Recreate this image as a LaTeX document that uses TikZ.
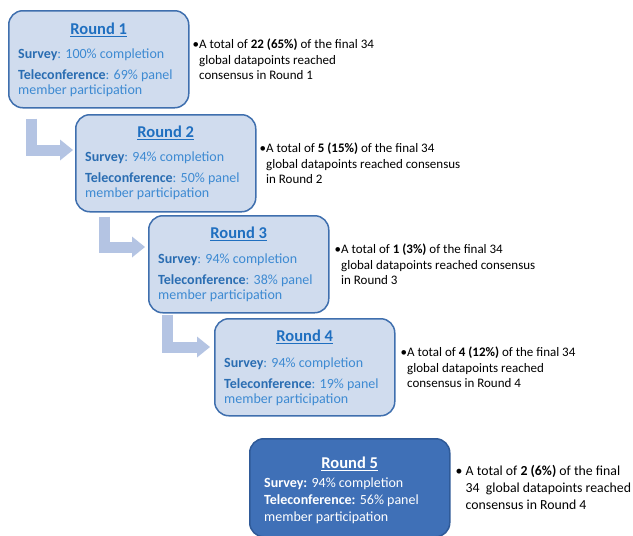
\documentclass[tikz,border=0pt]{standalone}
\usepackage{fontspec}
\setmainfont{Carlito}
\usepackage{xcolor}
\usepackage{tikz}
\usetikzlibrary{arrows.meta, positioning}

\definecolor{boxfill}{HTML}{D0DCEE}
\definecolor{boxline}{HTML}{3F6FAE}
\definecolor{darkfill}{HTML}{3F70B7}
\definecolor{darkline}{HTML}{2F5A98}
\definecolor{titleblue}{HTML}{1F6FC0}
\definecolor{labelblue}{HTML}{2A6DB2}
\definecolor{textblue}{HTML}{3D8AD2}
\definecolor{arrowblue}{HTML}{B4C4E3}

\newcommand{\lab}[1]{\textbf{#1}}

\tikzset{
    roundbox/.style={draw=boxline, fill=boxfill, line width=1.5pt, rounded corners=14pt,
        minimum width=180pt, minimum height=97pt, inner sep=0pt, anchor=north west},
    lastbox/.style={roundbox, draw=darkline, fill=darkfill, minimum width=200pt, minimum height=98pt},
    title/.style={font=\fontsize{16.5}{19}\selectfont\bfseries, text=titleblue, inner sep=0pt},
    body/.style={font=\fontsize{14}{15}\selectfont, text=textblue, align=left, inner sep=0pt, anchor=north west},
    note/.style={font=\fontsize{13}{15.5}\selectfont, align=left, inner sep=0pt, anchor=west},
    flow/.style={draw=arrowblue, line width=11pt,
        -{Triangle[width=21pt, length=13pt, line width=0pt]}}
}

\begin{document}
\begin{tikzpicture}[x=1pt, y=-1pt, node distance=3pt]
        \useasboundingbox (0,0) rectangle (633,536);

        % Add the rounds
        \node[roundbox] (r1) at (8,10)    {};
        \node[roundbox] (r2) at (75,114)  {};
        \node[roundbox] (r3) at (148,215) {};
        \node[roundbox] (r4) at (214,318) {};
        \node[lastbox]  (r5) at (249,438) {};

        % Add the text inside the rounds
        \node[title] (t1) at ([yshift=-20pt]r1.north) {\underline{Round 1}};
        \node[body] (b1) at ([xshift=10pt, yshift=-39pt]r1.north west)
            {\textcolor{labelblue}{\lab{Survey}}: 100\% completion\\[6pt]
             \textcolor{labelblue}{\lab{Teleconference}}: 69\% panel\\ member participation};
        \node[title] (t2) at ([yshift=-19pt]r2.north) {\underline{Round 2}};
        \node[body] (b2) at ([xshift=10pt, yshift=-38pt]r2.north west)
            {\textcolor{labelblue}{\lab{Survey}}: 94\% completion\\[6pt]
             \textcolor{labelblue}{\lab{Teleconference}}: 50\% panel\\ member participation};
        \node[title] (t3) at ([yshift=-19pt]r3.north) {\underline{Round 3}};
        \node[body] (b3) at ([xshift=10pt, yshift=-39pt]r3.north west)
            {\textcolor{labelblue}{\lab{Survey}}: 94\% completion\\[6pt]
             \textcolor{labelblue}{\lab{Teleconference}}: 38\% panel\\ member participation};
        \node[title] (t4) at ([yshift=-19pt]r4.north) {\underline{Round 4}};
        \node[body] (b4) at ([xshift=10pt, yshift=-40pt]r4.north west)
            {\textcolor{labelblue}{\lab{Survey}}: 94\% completion\\[6pt]
             \textcolor{labelblue}{\lab{Teleconference}}: 19\% panel\\ member participation};
        \node[title, text=white] (t5) at ([yshift=-26pt]r5.north) {\underline{Round 5}};
        \node[body, text=white, font=\fontsize{14}{17}\selectfont] (b5) at ([xshift=15pt, yshift=-40pt]r5.north west)
            {\lab{Survey:} 94\% completion\\
             \lab{Teleconference:} 56\% panel\\ member participation};

        % Add the notes on the right
        \node[note, right=of r1] (n1)
            {•A total of \textbf{22 (65\%)} of the final 34\\
             \hphantom{•}global datapoints reached\\ \hphantom{•}consensus in Round 1};
        \node[note, right=of r2] (n2)
            {•A total of \textbf{5 (15\%)} of the final 34\\
             \hphantom{•}global datapoints reached consensus\\ \hphantom{•}in Round 2};
        \node[note, right=5pt of r3] (n3)
            {•A total of \textbf{1 (3\%)} of the final 34\\
             \hphantom{•}global datapoints reached consensus\\ \hphantom{•}in Round 3};
        \node[note, right=5pt of r4] (n4)
            {•A total of \textbf{4 (12\%)} of the final 34\\
             \hphantom{•}global datapoints reached\\ \hphantom{•}consensus in Round 4};
        \node[note, font=\fontsize{13.8}{17}\selectfont, right=5pt of r5] (n5)
            {• A total of \textbf{2 (6\%)} of the final\\
             \hphantom{• }34~ global datapoints reached\\ \hphantom{• }consensus in Round 4};

        % Connect the rounds with arrows
        \draw[flow] ([xshift=23pt, yshift=-10pt]r1.south west) |- ([xshift=-2pt, yshift=-36pt]r2.north west);
        \draw[flow] ([xshift=29pt, yshift=-4pt]r2.south west)  |- ([xshift=-3pt, yshift=-32pt]r3.north west);
        \draw[flow] ([xshift=19pt, yshift=-1pt]r3.south west)  |- ([xshift=-4pt, yshift=-29pt]r4.north west);
    \end{tikzpicture}
\end{document}
